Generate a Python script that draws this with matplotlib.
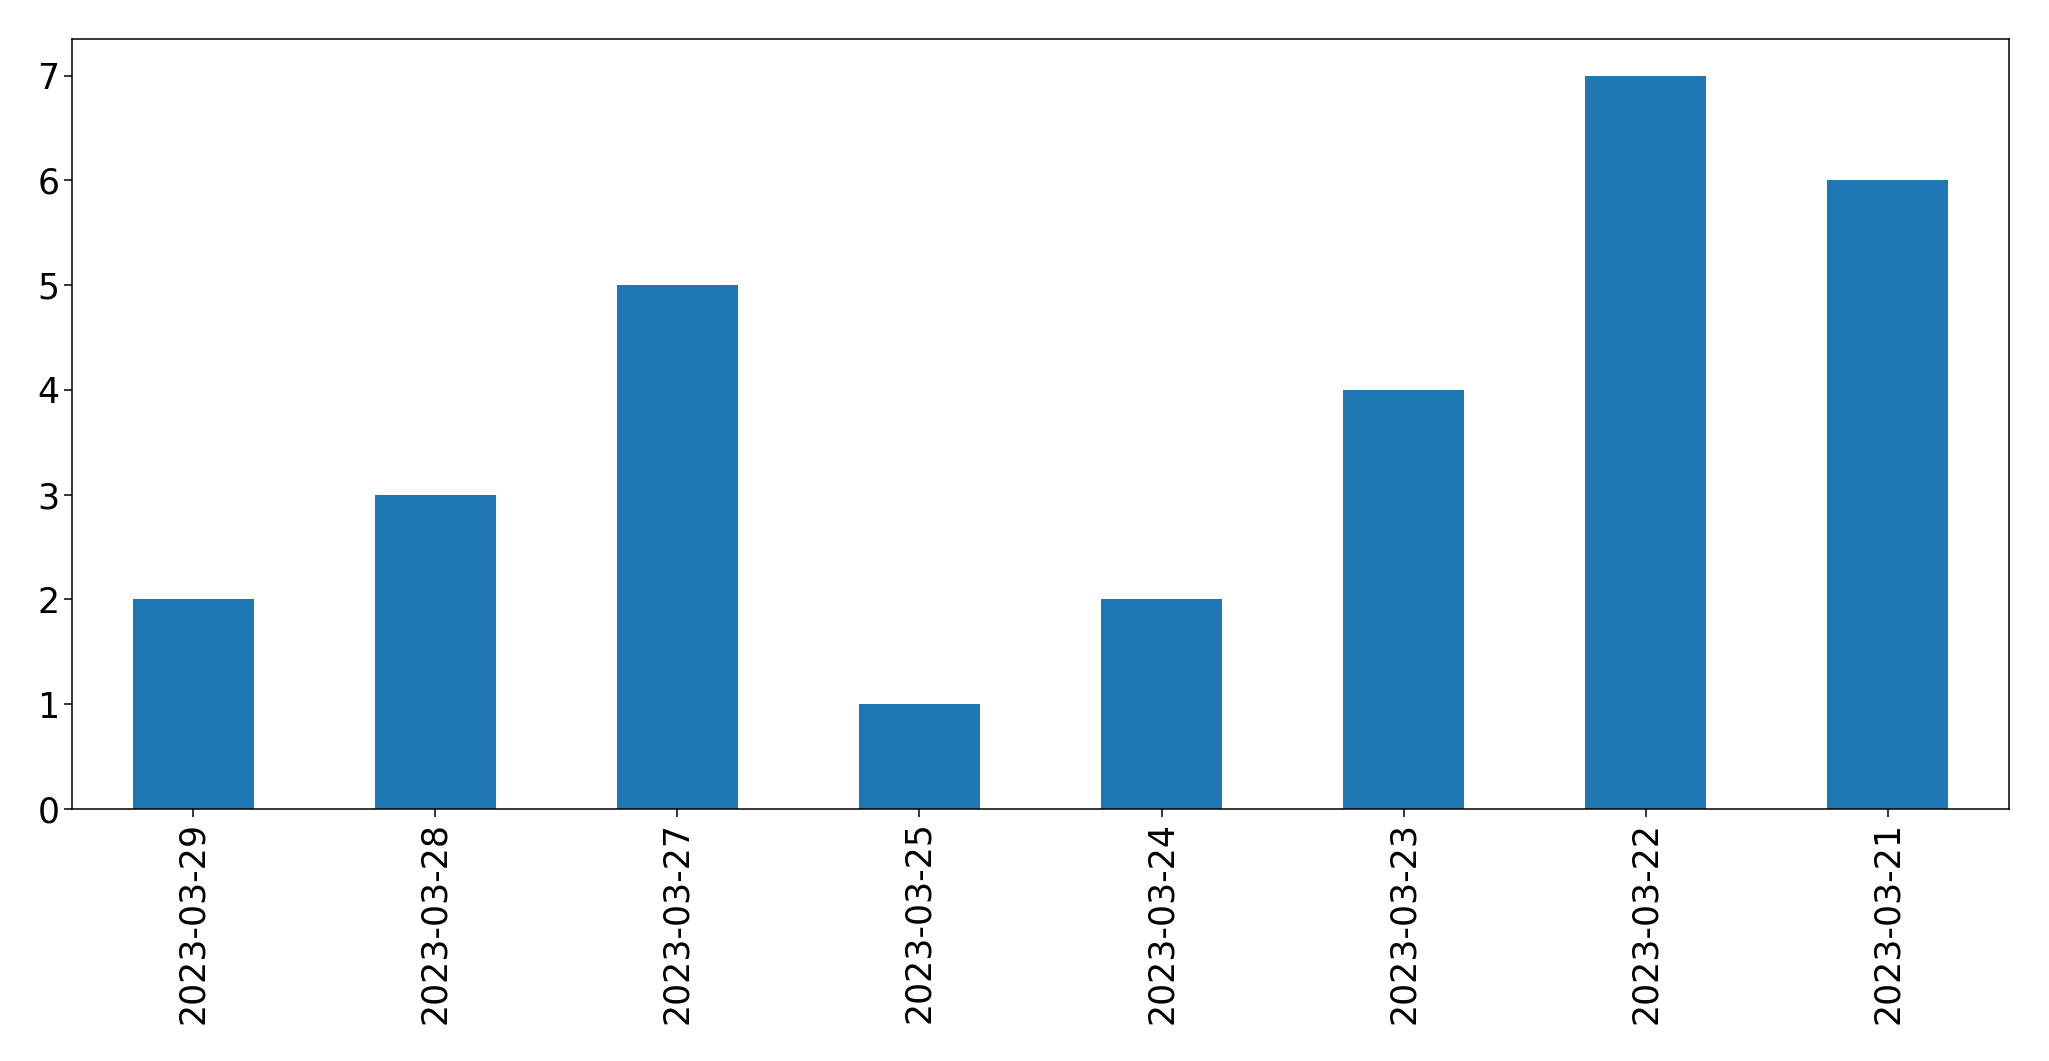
import matplotlib
matplotlib.use('Agg')
import matplotlib.pyplot as plt
import numpy as np

dates = ['2023-03-29', '2023-03-28', '2023-03-27', '2023-03-25',
         '2023-03-24', '2023-03-23', '2023-03-22', '2023-03-21']
counts = [2, 3, 5, 1, 2, 4, 7, 6]

FONT_SIZE = 25
W, H = 2049, 1061

fig = plt.figure(figsize=(W / 100, H / 100), dpi=100)
ax = fig.add_axes([72 / W, 1 - 809 / H, (2009 - 72) / W, (809 - 39) / H])

x = np.arange(len(dates))
ax.bar(x, counts, width=0.5, color='#1f77b4')
ax.set_xticks(x)
ax.set_xticklabels(dates, rotation=90, fontsize=FONT_SIZE)
ax.tick_params(axis='y', labelsize=FONT_SIZE)
ax.tick_params(length=5.5, width=1.1)
for s in ax.spines.values():
    s.set_linewidth(1.1)
ax.set_xlim(-0.5, len(dates) - 0.5)
ax.set_ylim(0, 7.35)

fig.savefig('out.png', dpi=100)
